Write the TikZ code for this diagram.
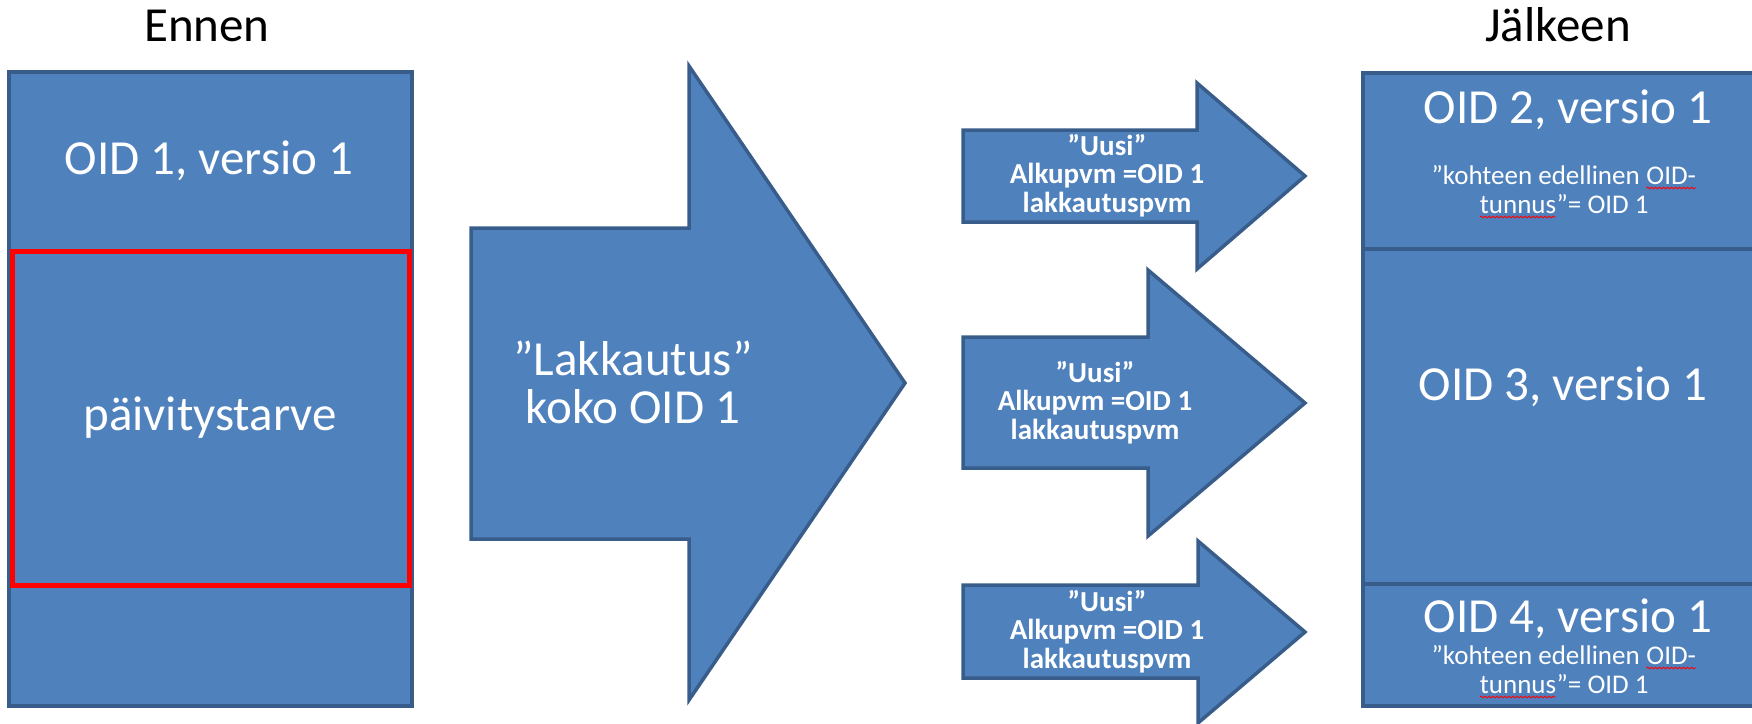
\documentclass[tikz,border=0pt]{standalone}
\usepackage{fontspec}
\setmainfont{Carlito}
\usetikzlibrary{decorations.pathmorphing}
\definecolor{fillblue}{HTML}{4F81BD}
\definecolor{edgeblue}{HTML}{385D8A}
\newcommand\wavymark[1]{\tikz[baseline=(w.base)]{\node[inner sep=0pt,outer sep=0pt,text=white](w){#1};\draw[red,line width=0.9pt,decorate,decoration={snake,amplitude=0.9pt,segment length=4pt}]([yshift=-4pt]w.base west)--([yshift=-4pt]w.base east);}}
\begin{document}
\begin{tikzpicture}[x=1pt,y=-1pt,
  cell/.style={draw=edgeblue,fill=fillblue,line width=3.5pt,inner sep=0pt},
  redcell/.style={draw=red,line width=5pt,inner sep=0pt},
  bigtxt/.style={text=white,font=\fontsize{49}{48}\selectfont,inner sep=0pt,anchor=base,align=center},
  headtxt/.style={text=black,font=\fontsize{49}{49}\selectfont,inner sep=0pt,anchor=base},
  arrtxt/.style={text=white,font=\fontsize{29}{28.5}\selectfont\bfseries,inner sep=0pt,anchor=base,align=center},
  smalltxt/.style={text=white,font=\fontsize{27}{29}\selectfont,inner sep=0pt,anchor=base,align=center},
  blockarrow/.style={draw=edgeblue,fill=fillblue,line width=3.5pt,line join=miter}]
\useasboundingbox (0,0) rectangle (1752,723);

% headings
\node[headtxt] (ennen) at (207,41) {Ennen};
\node[headtxt] (jalkeen) at (1558,41) {Jälkeen};

% left box
\node[cell,minimum width=403pt,minimum height=634pt] (oldbox) at (210.5,389) {};
\node[redcell,minimum width=397pt,minimum height=334pt] (need) at (210.5,418) {};
\node[bigtxt] (oid1) at (209,174) {OID 1, versio 1};
\node[bigtxt] (needtxt) at (210,430) {päivitystarve};

% big arrow
\draw[blockarrow] (471,228) -- (689,228) -- (689,66) -- (905,383) -- (689,700) -- (689,539) -- (471,539) -- cycle;
\node[bigtxt] (lakk) at (633,423) {”Lakkautus”\\koko OID 1};

% small arrows
\draw[blockarrow] (963,130) -- (1197,130) -- (1197,83) -- (1305,176) -- (1197,269) -- (1197,222) -- (963,222) -- cycle;
\draw[blockarrow] (963,337) -- (1148,337) -- (1148,270) -- (1305,403) -- (1148,536) -- (1148,468) -- (963,468) -- cycle;
\draw[blockarrow] (963,585) -- (1198,585) -- (1198,541) -- (1305,632) -- (1198,723) -- (1198,678) -- (963,678) -- cycle;
\node[arrtxt] (uusi1) at (1107,212) {”Uusi”\\Alkupvm =OID 1\\lakkautuspvm};
\node[arrtxt] (uusi2) at (1095,439) {”Uusi”\\Alkupvm =OID 1\\lakkautuspvm};
\node[arrtxt] (uusi3) at (1107,668) {”Uusi”\\Alkupvm =OID 1\\lakkautuspvm};

% right box
\node[cell,minimum width=400pt,minimum height=176pt] (oid2box) at (1563,161) {};
\node[cell,minimum width=400pt,minimum height=335pt] (oid3box) at (1563,416.5) {};
\node[cell,minimum width=400pt,minimum height=122pt] (oid4box) at (1563,645) {};
\node[bigtxt] (oid2) at (1568,123) {OID 2, versio 1};
\node[smalltxt] (prev2) at (1564,213) {”kohteen edellinen \wavymark{OID-}\\\wavymark{tunnus}”= OID 1};
\node[bigtxt] (oid3) at (1563,400) {OID 3, versio 1};
\node[bigtxt] (oid4) at (1568,632) {OID 4, versio 1};
\node[smalltxt] (prev4) at (1564,693) {”kohteen edellinen \wavymark{OID-}\\\wavymark{tunnus}”= OID 1};
\end{tikzpicture}
\end{document}
